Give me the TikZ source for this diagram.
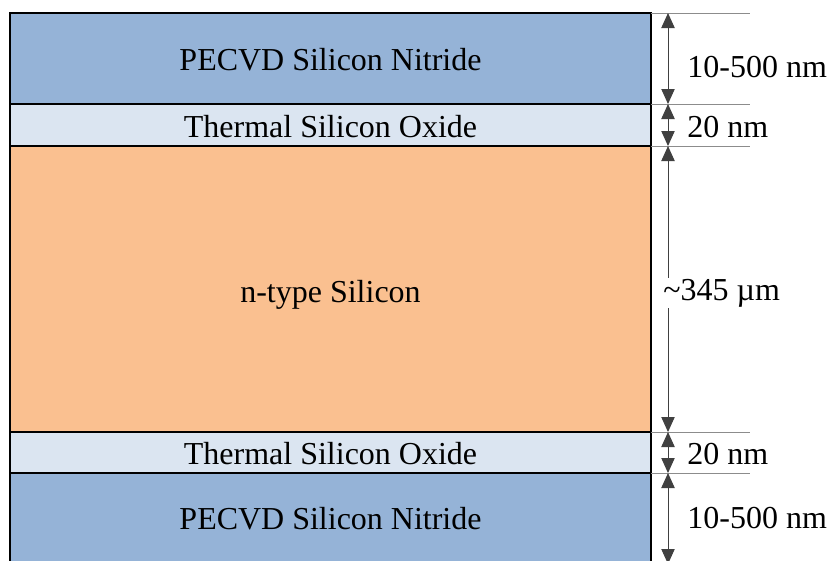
\documentclass[tikz,border=0pt]{standalone}
\usepackage{fontspec}
\setmainfont{Liberation Serif}
\newfontfamily\timesfont{Liberation Serif}
\usetikzlibrary{arrows.meta}
\definecolor{nitride}{HTML}{95B3D7}
\definecolor{oxide}{HTML}{DBE5F1}
\definecolor{silicon}{HTML}{FAC090}
\definecolor{dimgray}{HTML}{404040}
\definecolor{extgray}{HTML}{8C8C8C}

\begin{document}
\begin{tikzpicture}[x=0.3mm,y=-0.3mm,
  layer/.style={draw=black, line width=0.6mm},
  lbl/.style={anchor=base, font=\timesfont\fontsize{27.3}{32}\selectfont},
  dimlbl/.style={anchor=base west, inner sep=1pt, font=\timesfont\fontsize{27.3}{32}\selectfont},
  ext/.style={draw=extgray, line width=0.3mm},
  dim/.style={draw=dimgray, line width=0.3mm, {Triangle[length=4.5mm,width=4mm]}-{Triangle[length=4.5mm,width=4mm]}}]
\useasboundingbox (0,0) rectangle (830,560);
\clip (0,0) rectangle (830,560);
% layer stack
\path[layer, fill=nitride] (10,13) rectangle (651,104);
\path[layer, fill=oxide] (10,104) rectangle (651,146);
\path[layer, fill=silicon] (10,146) rectangle (651,432);
\path[layer, fill=oxide] (10,432) rectangle (651,473);
\path[layer, fill=nitride] (10,473) rectangle (651,563);
\node[lbl] (nit1) at (330.5,70.5) {PECVD Silicon Nitride};
\node[lbl] (ox1) at (330.5,137.5) {Thermal Silicon Oxide};
\node[lbl] (si) at (330.5,302.5) {n-type Silicon};
\node[lbl] (ox2) at (330.5,464.5) {Thermal Silicon Oxide};
\node[lbl] (nit2) at (330.5,529.5) {PECVD Silicon Nitride};
% extension lines
\foreach \y in {13,104,146,432,473}
  \draw[ext] (651,\y) -- (750,\y);
% dimension arrows
\coordinate (b0) at (668,13);
\coordinate (b1) at (668,104);
\coordinate (b2) at (668,146);
\coordinate (b3) at (668,432);
\coordinate (b4) at (668,473);
\coordinate (b5) at (668,564);
\draw[dim] (b0) -- (b1);
\draw[dim] (b1) -- (b2);
\draw[dim] (b2) -- (b3);
\draw[dim] (b3) -- (b4);
\draw[dim] (b4) -- (b5);
\node[dimlbl] (d1) at (686,77.5) {10-500 nm};
\node[dimlbl] (d2) at (686,137) {20 nm};
\node[dimlbl, fill=white] (d3) at (662,300.5) {\textasciitilde345 µm};
\node[dimlbl] (d4) at (686,464) {20 nm};
\node[dimlbl] (d5) at (686,528) {10-500 nm};
\end{tikzpicture}
\end{document}
